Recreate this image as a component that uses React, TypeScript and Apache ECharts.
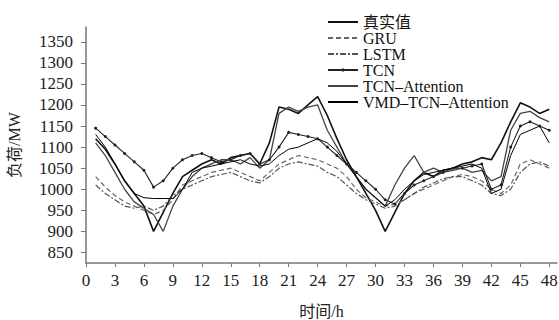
import React, { useEffect, useRef } from "react";
import * as echarts from "echarts";

const hours = [1,2,3,4,5,6,7,8,9,10,11,12,13,14,15,16,17,18,19,20,21,22,23,24,25,26,27,28,29,30,31,32,33,34,35,36,37,38,39,40,41,42,43,44,45,46,47,48];

const seriesNames = ["真实值", "GRU", "LSTM", "TCN", "TCN–Attention", "VMD–TCN–Attention"];

const actual = [1120,1095,1060,1020,990,960,900,945,990,1030,1045,1060,1070,1060,1075,1080,1085,1060,1110,1195,1190,1180,1200,1220,1175,1120,1070,1030,990,950,900,945,990,1020,1040,1030,1045,1050,1060,1065,1075,1070,1110,1160,1205,1195,1180,1190];
const gru = [1030,1005,985,970,960,950,940,950,975,1010,1020,1030,1040,1045,1050,1040,1030,1020,1040,1060,1070,1080,1075,1070,1060,1050,1030,1000,980,970,960,965,975,990,1000,1010,1020,1030,1035,1030,1020,1000,990,1010,1060,1070,1060,1050];
const lstm = [1010,990,975,960,955,960,950,960,985,1000,1010,1020,1030,1035,1040,1030,1020,1015,1030,1050,1060,1065,1060,1055,1040,1030,1010,990,975,965,955,960,975,990,1005,1015,1025,1030,1030,1020,1010,990,985,1000,1040,1060,1065,1055];
const tcn = [1145,1125,1105,1085,1065,1045,1005,1020,1050,1070,1080,1085,1075,1065,1070,1080,1085,1060,1070,1100,1135,1130,1125,1120,1100,1080,1060,1040,1020,1000,975,965,990,1010,1020,1030,1040,1050,1050,1055,1060,1000,1010,1100,1150,1160,1150,1140];
const tcnAtt = [1110,1080,1040,1000,970,955,940,900,960,1000,1030,1050,1060,1070,1070,1060,1075,1050,1070,1180,1195,1185,1195,1200,1140,1100,1060,1030,1000,980,960,1010,1050,1080,1040,1050,1040,1045,1050,1040,1045,1020,1030,1140,1180,1185,1170,1160];
const vmd = [1130,1100,1060,1020,990,980,978,978,978,1000,1040,1050,1055,1060,1065,1070,1060,1055,1060,1080,1095,1100,1110,1120,1110,1090,1060,1030,1000,980,960,975,1000,1020,1035,1040,1045,1050,1055,1060,1050,990,1000,1080,1130,1140,1150,1110];

const yTickInterval = 50;
const xTickInterval = 3;

const pairs = (vals: number[]) => hours.map((h, i) => [h, vals[i]]);

const FONT = "'Liberation Serif', 'Noto Sans CJK SC', serif";

export default function App() {
  const ref = useRef<HTMLDivElement>(null);
  useEffect(() => {
    if (!ref.current) return;
    const chart = echarts.init(ref.current, undefined, { renderer: "svg" });
    const colors = ["#111", "#666", "#555", "#222", "#444", "#000"];
    const styles: any[] = [
      { lineStyle: { color: colors[0], width: 1.6, type: "solid" }, symbol: "none" },
      { lineStyle: { color: colors[1], width: 1.2, type: [5, 3] }, symbol: "none" },
      { lineStyle: { color: colors[2], width: 1.2, type: [6, 2, 2, 2] }, symbol: "none" },
      { lineStyle: { color: colors[3], width: 1.1, type: "solid" }, symbol: "circle", symbolSize: 3 },
      { lineStyle: { color: colors[4], width: 1.3, type: "solid" }, symbol: "none" },
      { lineStyle: { color: colors[5], width: 1, type: "solid" }, symbol: "none" },
    ];
    const datasets = [actual, gru, lstm, tcn, tcnAtt, vmd];
    chart.setOption({
      animation: false,
      backgroundColor: "#fff",
      color: colors,
      grid: { left: 86, right: 2, top: 27, bottom: 57, containLabel: false, outerBoundsMode: "none" },
      legend: {
        orient: "vertical",
        left: 322,
        top: 9,
        itemWidth: 30,
        itemHeight: 4,
        itemGap: 0,
        data: seriesNames.map((name, i) => ({
          name,
          itemStyle: i === 3 ? { color: colors[3], opacity: 1 } : { opacity: 0 },
        })),
        textStyle: { fontFamily: FONT, fontSize: 16, color: "#111", lineHeight: 16 },
      },
      xAxis: {
        type: "value",
        min: 0,
        max: 48.8,
        interval: xTickInterval,
        name: "时间/h",
        nameLocation: "middle",
        nameGap: 40,
        nameTextStyle: { fontFamily: FONT, fontSize: 16, color: "#222" },
        axisLine: { show: true, lineStyle: { color: "#777", width: 1.5 } },
        axisTick: { show: true, length: 4, lineStyle: { color: "#777" } },
        axisLabel: { fontFamily: FONT, fontSize: 17, color: "#222", margin: 9, showMaxLabel: false },
        splitLine: { show: false },
      },
      yAxis: {
        type: "value",
        min: 825,
        max: 1385,
        minInterval: yTickInterval,
        maxInterval: yTickInterval,
        name: "负荷/MW",
        nameLocation: "middle",
        nameGap: 64,
        nameTextStyle: { fontFamily: FONT, fontSize: 16, color: "#222" },
        axisLine: { show: true, lineStyle: { color: "#777", width: 1.5 } },
        axisTick: { show: true, length: 5, lineStyle: { color: "#777" } },
        axisLabel: {
          fontFamily: FONT, fontSize: 17, color: "#222", margin: 13,
          showMinLabel: false, showMaxLabel: false,
          formatter: (v: number) => String(v),
        },
        splitLine: { show: false },
      },
      series: seriesNames.map((name, i) => ({
        name,
        type: "line",
        data: pairs(datasets[i]),
        itemStyle: { color: colors[i] },
        ...styles[i],
      })),
    });
    return () => chart.dispose();
  }, []);
  return <div ref={ref} style={{ position: "fixed", left: 0, top: 0, width: 559, height: 320 }} />;
}
